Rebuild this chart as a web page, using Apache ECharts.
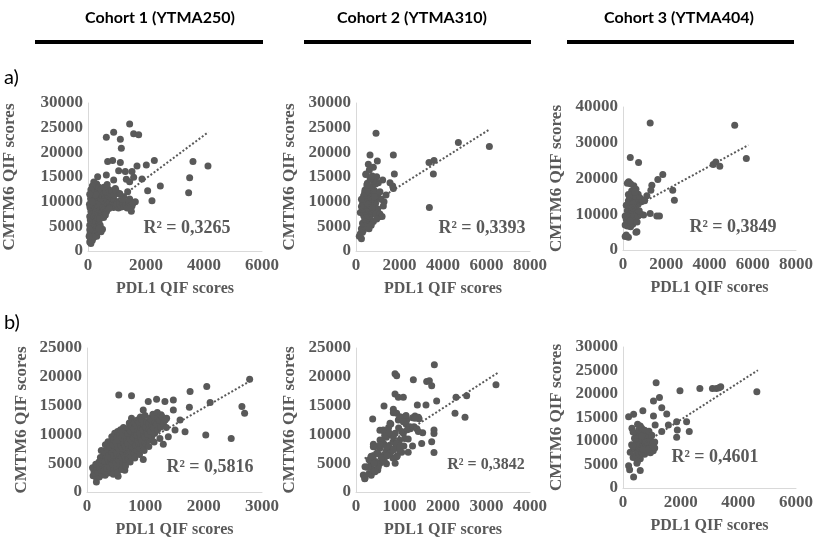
<!DOCTYPE html>
<html>
<head>
<meta charset="utf-8">
<title>CMTM6 vs PDL1</title>
<script src="https://cdn.jsdelivr.net/npm/echarts@6/dist/echarts.min.js"></script>
<style>
    html, body { margin: 0; padding: 0; background: #fff; }
    #chart { width: 816px; height: 547px; }
</style>
</head>
<body>
<div id="chart"></div>
<script>
// cohort headers and panel labels
var cohorts = ['Cohort 1 (YTMA250)', 'Cohort 2 (YTMA310)', 'Cohort 3 (YTMA404)'];
var rowLabels = ['a)', 'b)'];
var r2Labels = ['R² = 0,3265', 'R² = 0,3393', 'R² = 0,3849', 'R² = 0,5816', 'R² = 0,3842', 'R² = 0,4601'];

// axis ranges
var xMax = [6000, 8000, 8000, 3000, 4000, 6000];
var xStep = [2000, 2000, 2000, 1000, 1000, 2000];
var yMax = [30000, 30000, 40000, 25000, 25000, 30000];
var yStep = [5000, 5000, 10000, 5000, 5000, 5000];

// a) cohort 1 : [PDL1, CMTM6]
var a1Points = [
    [1436,25720],[885,24090],[632,23080],[1115,22670],[1574,23750],[1747,23550],[1149,20840],
    [678,18120],[850,18330],[1115,17920],[1690,17240],[2011,17440],[2287,18330],[3620,18120],
    [4137,17240],[3505,14860],[3470,11810],[2494,13170],[2057,12220],[2206,10180],[1862,14590],
    [1574,14930],[1321,14520],[1436,14050],[1057,16290],[1287,16090],[1517,16090],[885,14390],
    [632,15410],[333,15070],[1436,10520],[1632,9980],[1517,9100],[1494,8080],[942,12690],
    [1367,12010],[1091,11670],[1229,11000],[1000,9980],
    [60,1800],[80,2500],[100,1500],[120,3000],[70,3500],[150,2200],[90,4200],[130,4800],[60,5200],
    [180,3600],[110,5800],[200,4400],[80,6300],[160,6600],[240,5200],[60,7000],[130,7400],[210,7000],
    [280,6000],[100,8000],[180,8300],[260,7800],[320,6800],[70,8800],[150,9200],[230,9000],[300,8600],
    [360,7600],[120,9800],[200,10200],[280,9700],[350,9200],[420,8200],[90,10600],[170,11000],
    [250,10800],[330,10400],[400,9800],[140,11600],[220,12000],[300,11500],[380,11000],[460,10500],
    [180,12600],[260,12800],[340,12300],[420,11800],[500,11200],[230,13200],[300,13600],[380,12900],
    [460,12500],[550,11700],[200,14000],[520,10300],[600,10800],[580,9500],[650,10200],[700,11200],
    [680,9400],[750,9800],[800,10800],[780,9000],[850,9600],[900,10400],[880,8800],[950,9200],
    [1000,9700],[1050,8700],[1100,9400],[1150,8900],[1200,9600],[1250,9000],[1300,9500],[1350,8700],
    [620,12000],[700,12500],[760,11600],[820,12200],[900,11400],[960,12300],[500,8700],[450,7000],
    [380,5600],[320,4800],[400,6500],[260,3800],[350,3900],[300,3000],[200,2800],[420,5200],[480,7800],
    [560,8400],[640,8000],[720,8600],[540,6800],[600,7300],[250,11400],[150,13200],[100,12400],
    [60,11500],[50,9500],[60,4300],[40,3000],[500,4400],[450,3900],[380,4600],[150,10000],[550,12900],
    [660,13500],[1400,10000],[1480,9200],[1550,9700],[1100,11500],[1200,10500]
];
var a1Trend = [[50, 6200], [4150, 24100]];

// a) cohort 2
var a2Points = [
    [920,23890],[644,19480],[1717,19480],[981,18260],[567,17580],[797,16970],[613,16420],[1763,15610],
    [460,15610],[950,15070],[1226,14390],[1564,13850],[1686,13170],[1717,12690],[1380,11330],
    [1288,9980],[1257,9100],[1073,6920],[3357,17920],[3587,18330],[3557,15610],[3373,8820],
    [4706,21990],[6132,21180],[797,12350],[1027,13850],[521,13710],[414,12350],
    [150,3000],[250,2500],[200,3500],[300,3800],[350,4300],[250,4500],[400,4900],[450,5300],[300,5600],
    [500,5800],[550,6200],[400,6500],[600,6600],[650,7000],[350,7200],[500,7400],[700,7600],[200,7800],
    [450,8000],[600,8200],[750,8000],[300,8500],[550,8700],[800,8400],[250,9000],[400,9200],[650,9300],
    [850,9000],[300,9600],[500,9800],[700,9900],[900,9700],[350,10200],[600,10400],[800,10600],
    [450,10800],[650,11000],[950,10800],[550,11500],[750,11700],[1000,11300],[400,11900],[850,12200],
    [600,12400],[700,13000],[500,13400],[900,13600],[800,14200],[650,14600],[450,15500],[750,15200],
    [1100,12000],[1150,10500],[1000,8500],[900,7500],[800,6000],[700,5200],[600,4500],[1100,7500],
    [1200,7000],[950,6500],[550,9500],[750,8800],[850,11000],[500,12000],[350,11200],[250,10500]
];
var a2Trend = [[100, 7860], [6150, 24680]];

// a) cohort 3
var a3Points = [
    [1257,35530],[5166,34880],[337,25860],[720,24460],[5703,25580],[4170,23910],[4292,24650],
    [4476,23440],[1840,21120],[1610,19720],[1334,18140],[1288,16740],[2300,16740],[2376,13950],
    [1104,15160],[1257,10230],[1564,9490],[1686,9490],[950,9770],[644,5120],[261,19070],
    [100,3800],[250,3600],[150,4200],[200,6700],[100,7000],[350,6500],[300,7800],[450,7200],[150,8500],
    [250,9200],[400,9000],[550,8200],[650,7800],[100,9500],[300,10200],[500,10000],[700,9500],
    [850,9900],[200,11000],[400,11200],[600,11500],[750,11000],[150,12500],[350,12700],[550,12200],
    [700,12800],[250,13800],[450,14200],[650,14000],[850,13500],[300,15000],[500,15300],[700,15600],
    [400,16500],[600,17000],[500,18000],[350,18500],[200,18700],[600,15000],[450,13000],[800,14500],
    [900,14000],[1000,13800],[350,8200],[600,5000],[450,11800],[250,15500],[550,16200]
];
var a3Trend = [[100, 10610], [5800, 29360]];

// b) cohort 1
var b1Points = [
    [545,16860],[763,16690],[1193,16100],[1336,15700],[1480,15990],[1767,17440],[2053,18310],
    [2788,19590],[2111,15520],[1755,14710],[1595,12500],[1681,10470],[2036,9880],[2472,9300],
    [2656,14830],[2702,13660],[161,1740],[533,2730],[648,3780],[964,5640],[361,8720],[763,12790],
    [964,14240],[1509,10760],[1308,8310],[1394,9590],[1050,15700],[1480,14240],[1365,12790],
    [105,2800],[120,3500],[95,4200],[160,2500],[140,3200],[170,4000],[150,4800],[210,2600],[190,3400],
    [220,4300],[205,5200],[230,6000],[260,3000],[240,3800],[270,4600],[255,5500],[280,6300],[245,7200],
    [310,2900],[290,3700],[320,4500],[305,5300],[330,6100],[295,7000],[315,8200],[360,3300],[340,4100],
    [370,5000],[355,5800],[380,6600],[345,7500],[365,8600],[410,3600],[390,4400],[420,5200],[405,6000],
    [430,6900],[395,7800],[415,8700],[425,9600],[460,3900],[440,4800],[470,5600],[455,6400],[480,7300],
    [445,8200],[465,9100],[475,10200],[510,4200],[490,5100],[520,6000],[505,6800],[530,7700],[495,8600],
    [515,9500],[525,10500],[560,4700],[540,5600],[570,6400],[555,7300],[580,8100],[545,9000],
    [565,10000],[575,10800],[610,5000],[590,6000],[620,6800],[605,7600],[630,8500],[595,9400],
    [615,10300],[625,11200],[660,5400],[640,6300],[670,7200],[655,8000],[680,8900],[645,9800],
    [665,10700],[710,5900],[690,6700],[720,7600],[705,8400],[730,9300],[695,10200],[715,11100],
    [725,12000],[760,6200],[740,7100],[770,8000],[755,8900],[780,9700],[745,10600],[765,11500],
    [810,6800],[790,7600],[820,8500],[805,9400],[830,10200],[795,11000],[815,12000],[860,7200],
    [840,8100],[870,9000],[855,9900],[880,10700],[845,11600],[865,12500],[910,7600],[890,8500],
    [920,9400],[905,10300],[930,11200],[895,12100],[915,13000],[960,8000],[940,9000],[970,9900],
    [955,10800],[980,11700],[945,12600],[1010,8500],[990,9500],[1020,10400],[1005,11300],[1030,12200],
    [995,13300],[1060,9000],[1040,10000],[1070,11000],[1055,11900],[1080,12800],[1110,9600],
    [1090,10600],[1120,11500],[1105,12500],[1130,13500],[1160,10200],[1140,11200],[1170,12100],
    [1155,13000],[1210,10800],[1190,11700],[1220,12700],[1205,13800],[1260,11300],[1240,12400],
    [1270,13400],[1310,11800],[1290,13000],[1360,11200],[1340,12500],
    [450,3100],[520,3400],[600,3900],[660,4500],[740,5200],[820,5900],[900,6500],[980,7200],
    [1060,7900],[1150,8700],[1250,9300]
];
var b1Trend = [[100, 3500], [2800, 19300]];

// b) cohort 2
var b2Points = [
    [1801,22090],[897,20520],[935,20170],[1318,19480],[1625,19190],[1686,19300],[1740,18430],
    [3218,18600],[1854,15810],[2299,16450],[2544,16690],[897,17030],[973,16450],[1088,16450],
    [1410,15110],[1609,15110],[644,14940],[858,14360],[858,13780],[2276,13660],[2506,12970],
    [383,12670],[1356,13200],[1433,12970],[1088,12970],[1165,12500],[973,12500],[1333,11340],
    [1533,10290],[1793,10760],[1793,10170],[1740,8720],[1793,6860],[1510,8430],
    [200,2300],[300,3200],[350,2900],[250,4300],[400,3800],[350,4700],[500,4300],[450,5300],[300,5600],
    [550,5000],[600,5900],[400,6300],[500,6700],[650,6500],[700,7200],[550,7600],[800,7000],[450,7900],
    [650,8300],[750,8000],[900,7700],[600,9000],[700,9500],[850,8700],[950,8300],[1000,9000],
    [800,10000],[650,10500],[900,10200],[750,11200],[1050,10500],[1150,11800],[1200,9200],[1100,8000],
    [1300,8000],[1250,11000],[700,4900],[950,6300],[1050,6900],[850,5900],[800,11800],[400,8300],
    [550,10700],[1000,12700],[1150,13300],[1300,12900],[1400,11000],[1450,12700],[500,3800],
    [650,5400],[1000,7300],[1200,6900],[900,5000],
    [935,13660],[1011,13070],[782,11920],[628,10760],[858,9600],[1088,10190],[552,9030],[398,7860],
    [705,7860],[935,8450],[475,6720],[782,6720],[322,5550],[628,5550],[935,6130],[283,4400],
    [513,4400],[437,3530],[168,2950],[1241,11340],[1356,12790],[1088,12200],[1433,10500],
    [207,2370],[207,4400],[580,6000],[720,6300],[860,7300],[1020,8000],[660,9800],[760,10300],
    [980,11100],[1120,9300],[420,5000],[560,8200],[350,6200],[1180,10800]
];
var b2Trend = [[200, 5800], [3270, 20750]];

// b) cohort 3
var b3Points = [
    [1149,22380],[1057,18490],[1264,19270],[1976,20680],[2666,21180],[3102,21180],[3240,21180],
    [3332,21320],[3390,21530],[4642,20470],[195,15180],[368,15670],[689,16450],[1057,15320],
    [1344,17080],[1517,15740],[1861,14120],[2206,14120],[1574,13410],[1344,12000],[2298,12000],
    [1884,12350],[1861,10800],[1115,13410],[310,12710],[506,13550],[598,13200],[195,4730],
    [230,3880],[368,2330],[598,3740],[483,5290],
    [350,6500],[450,7000],[550,7400],[650,7600],[750,7200],[850,7800],[950,7500],[1050,7900],
    [1100,8500],[400,8200],[500,8600],[600,8900],[700,9200],[800,8700],[900,9500],[1000,9000],
    [300,9200],[450,9600],[550,10100],[650,10500],[750,10000],[850,10700],[950,10300],[400,10600],
    [500,11200],[600,11500],[700,11800],[800,11200],[350,11900],[550,12400],[650,12700],[750,12300],
    [900,12100],[450,9000],[600,6200],[700,8200],[1000,11200],[1100,9800],[250,7600],[350,8800],
    [500,5700],[650,11000],[800,9800],[900,8300],[1050,8800]
];
var b3Trend = [[200, 7420], [4680, 25060]];

var allPoints = [a1Points, a2Points, a3Points, b1Points, b2Points, b3Points];
var allTrends = [a1Trend, a2Trend, a3Trend, b1Trend, b2Trend, b3Trend];

var chart = echarts.init(document.getElementById('chart'));

var grey = '#595959';
var serif = 'Liberation Serif';
var boxes = [
    {left: 88, top: 103, width: 174, height: 148, gap: 70},
    {left: 356, top: 103, width: 174, height: 148, gap: 58},
    {left: 623, top: 107, width: 174, height: 143, gap: 58},
    {left: 87, top: 348, width: 175, height: 144, gap: 57},
    {left: 356, top: 348, width: 174, height: 144, gap: 58},
    {left: 623, top: 347, width: 174, height: 141, gap: 58}
];
var r2Pos = [[187, 228], [482, 228], [733, 227], [210, 467], [486, 465], [715, 457]];
var r2Size = [18, 18, 18, 18, 16, 18];

var grids = [], xAxes = [], yAxes = [], series = [], graphics = [];
var axisLine = {show: true, lineStyle: {color: '#d9d9d9', width: 1}};
var labelStyle = {
    color: grey, fontFamily: serif, fontWeight: 'bold', fontSize: 17,
    formatter: function (v) { return String(v); }
};
var nameStyle = {color: grey, fontFamily: serif, fontWeight: 'bold', fontSize: 16};

for (var i = 0; i < 6; i++) {
    var b = boxes[i];
    grids.push({left: b.left, top: b.top, width: b.width, height: b.height});
    xAxes.push({
        type: 'value', gridIndex: i, min: 0, max: xMax[i], interval: xStep[i],
        axisLine: axisLine, axisTick: {show: false}, splitLine: {show: false},
        axisLabel: Object.assign({margin: 6}, labelStyle),
        name: 'PDL1 QIF scores', nameLocation: 'middle', nameGap: 30, nameTextStyle: nameStyle
    });
    yAxes.push({
        type: 'value', gridIndex: i, min: 0, max: yMax[i], interval: yStep[i],
        axisLine: axisLine, axisTick: {show: false}, splitLine: {show: false},
        axisLabel: Object.assign({margin: 5}, labelStyle),
        name: 'CMTM6 QIF scores', nameLocation: 'middle', nameGap: b.gap, nameRotate: 90,
        nameTextStyle: Object.assign({}, nameStyle, {fontSize: 17})
    });
    series.push({
        type: 'scatter', xAxisIndex: i, yAxisIndex: i, data: allPoints[i],
        symbolSize: 7, itemStyle: {color: grey, opacity: 1}, silent: true
    });
    series.push({
        type: 'line', xAxisIndex: i, yAxisIndex: i, data: allTrends[i],
        symbol: 'none', silent: true, z: 3,
        lineStyle: {color: grey, width: 2, type: [2, 2]}
    });
    graphics.push({
        type: 'text', x: r2Pos[i][0], y: r2Pos[i][1], z: 10,
        style: {
            text: r2Labels[i], fill: grey, font: 'bold ' + r2Size[i] + 'px "' + serif + '"',
            textAlign: 'center', textVerticalAlign: 'middle'
        }
    });
}

var headCenters = [160, 412, 679];
var headLines = [[35, 263], [304, 531], [567, 794]];
for (var k = 0; k < 3; k++) {
    graphics.push({
        type: 'text', x: headCenters[k], y: 18,
        style: {text: cohorts[k], fill: '#000', font: 'bold 16px Lato', textAlign: 'center', textVerticalAlign: 'middle'}
    });
    graphics.push({
        type: 'line', shape: {x1: headLines[k][0], y1: 42, x2: headLines[k][1], y2: 42},
        style: {stroke: '#000', lineWidth: 4}
    });
}
graphics.push({type: 'text', x: 4, y: 78, style: {text: rowLabels[0], fill: '#000', font: '20px Lato', textVerticalAlign: 'middle'}});
graphics.push({type: 'text', x: 4, y: 323, style: {text: rowLabels[1], fill: '#000', font: '20px Lato', textVerticalAlign: 'middle'}});

var option = {
    animation: false,
    backgroundColor: '#fff',
    grid: grids,
    xAxis: xAxes,
    yAxis: yAxes,
    series: series,
    graphic: graphics
};
chart.setOption(option);
</script>
</body>
</html>
